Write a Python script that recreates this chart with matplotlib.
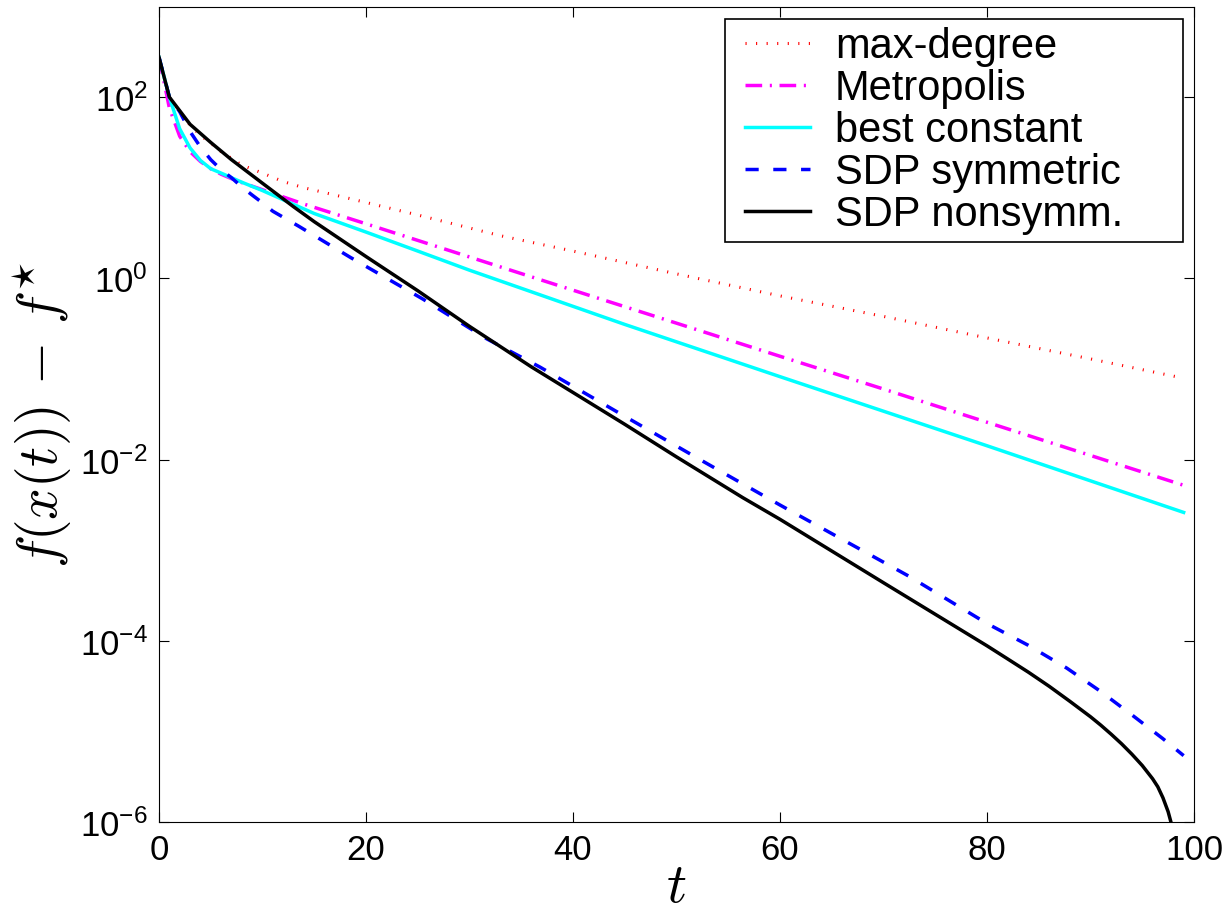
import math
import matplotlib
matplotlib.use("Agg")
import matplotlib.pyplot as plt
from matplotlib.lines import Line2D
from matplotlib.legend_handler import HandlerLine2D
from matplotlib.ticker import FixedLocator, FuncFormatter, NullLocator

plt.rcParams['font.family'] = ['Liberation Sans', 'DejaVu Sans']
plt.rcParams['mathtext.fontset'] = 'cm'
plt.rcParams['lines.scale_dashes'] = False

# ---------------- data ----------------
t_maxdeg = [0, 1, 2, 3, 4, 5, 6, 8, 10, 12, 14, 18, 25, 33, 40, 50, 60, 70, 80, 90, 99]
f_maxdeg = [275, 100, 69, 49, 38, 31, 25, 17.8, 14.5, 11.7, 10.0, 7.8, 5.0, 2.95,
            2.0, 1.12, 0.64, 0.38, 0.22, 0.129, 0.079]

t_metro = [0, 1, 2, 3, 4, 5, 6, 7, 8, 10, 14, 20, 30, 40, 50, 60, 70, 80, 90, 99]
f_metro = [275, 76, 37, 25, 19.5, 16.2, 14.1, 12.6, 11.4, 9.5, 6.6, 4.0, 1.72,
           0.74, 0.32, 0.138, 0.060, 0.0258, 0.0111, 0.0052]

t_best = [0, 1, 2, 3, 4, 5, 6, 7, 8, 10, 12, 15, 20, 25, 30, 38, 45, 60, 80, 99]
f_best = [275, 100, 44.7, 27.5, 20.0, 16.2, 14.5, 12.9, 11.5, 9.3, 7.36, 5.19, 3.24,
          2.0, 1.23, 0.59, 0.31, 0.0822, 0.0142, 0.00261]

t_sdpsym = [0, 1, 2, 3, 4, 5, 6, 7, 8, 9, 10, 11, 13.5, 18.5, 25.5, 31.7, 36.8, 45,
            52.75, 60, 72.4, 80, 84, 87.7, 90.9, 94.1, 97, 99]
f_sdpsym = [275, 100, 69, 41.7, 28.2, 20.4, 15.8, 12.9, 10.2, 8.3, 6.8, 5.5, 3.76,
            1.7, 0.59, 0.214, 0.105, 0.030, 0.0093, 3.15e-3, 5.2e-4, 1.55e-4,
            8.9e-5, 5.0e-5, 2.8e-5, 1.49e-5, 8.3e-6, 5.4e-6]

t_sdpns = [0, 1, 2, 3, 5, 7, 10, 13, 15, 20, 25, 30, 36, 40, 45, 50, 56.4, 60, 70,
           80, 82, 84, 86, 88, 90, 91, 92, 93, 94, 95, 96, 96.5, 97, 97.5, 98, 99]
f_sdpns = [275, 100, 70.8, 50.1, 31.6, 20.4, 11.2, 6.17, 4.22, 1.74, 0.73, 0.295,
           0.105, 0.055, 0.0245, 0.0107, 3.8e-3, 2.19e-3, 4.37e-4,
           8.8e-5, 6.3e-5, 4.5e-5, 3.15e-5, 2.15e-5, 1.45e-5, 1.17e-5, 9.3e-6,
           7.3e-6, 5.6e-6, 4.2e-6, 3.0e-6, 2.45e-6, 1.85e-6, 1.3e-6, 8.0e-7, 2.0e-7]

labels = ["max-degree", "Metropolis", "best constant", "SDP symmetric", "SDP nonsymm."]
xticks = [0, 20, 40, 60, 80, 100]
yticks = [1e-6, 1e-4, 1e-2, 1e0, 1e2]

# ---------------- figure ----------------
fig = plt.figure(figsize=(12.3, 9.2), dpi=100)
ax = fig.add_axes([159/1230, 1-823/920, (1194-159)/1230, (823-7.5)/920])

ax.plot(t_maxdeg, f_maxdeg, color='#ff0000', lw=2.2, linestyle=(0, (0.8, 6.8)),
        label=labels[0])
ax.plot(t_metro, f_metro, color='#ff00ff', lw=2.5,
        linestyle=(0, (12, 5.5, 1.5, 5.5)), label=labels[1])
ax.plot(t_best, f_best, color='#00ffff', lw=2.5, linestyle='-', label=labels[2])
ax.plot(t_sdpsym, f_sdpsym, color='#0000ff', lw=2.5, linestyle=(0, (9.5, 10.5)),
        label=labels[3])
ax.plot(t_sdpns, f_sdpns, color='black', lw=2.5, linestyle='-', label=labels[4])

ax.set_yscale('log')
ax.set_xlim(0, 100)
ax.set_ylim(1e-6, 1e3)
ax.xaxis.set_major_locator(FixedLocator(xticks))
ax.yaxis.set_major_locator(FixedLocator(yticks))
ax.yaxis.set_minor_locator(NullLocator())
ax.xaxis.set_minor_locator(NullLocator())


def yfmt(v, pos):
    e = int(round(math.log10(v)))
    return r'$\mathregular{10^{%d}}$' % e


ax.yaxis.set_major_formatter(FuncFormatter(yfmt))
ax.tick_params(axis='both', which='major', direction='in', length=7, width=0.8,
               top=True, right=True, labelsize=25, pad=8, colors='black')
for s in ax.spines.values():
    s.set_linewidth(0.8)

ax.set_xlabel(r'$t$', fontsize=40, labelpad=-4)
ax.set_ylabel(r'$f(x(t))\,-\,f^{\star}$', fontsize=40, labelpad=4)

leg = ax.legend(loc='upper left',
                bbox_to_anchor=(725/1230, 1-239/920, 458/1230, 219/920),
                bbox_transform=fig.transFigure, mode='expand', borderaxespad=0,
                fontsize=30, frameon=True, fancybox=False, framealpha=1,
                edgecolor='black', handlelength=1.87, handletextpad=0.6,
                labelspacing=0.05, borderpad=0.17,
                handler_map={Line2D: HandlerLine2D(xpad=0.31)})
leg.get_frame().set_linewidth(1.2)

fig.savefig('out.png', dpi=100)
